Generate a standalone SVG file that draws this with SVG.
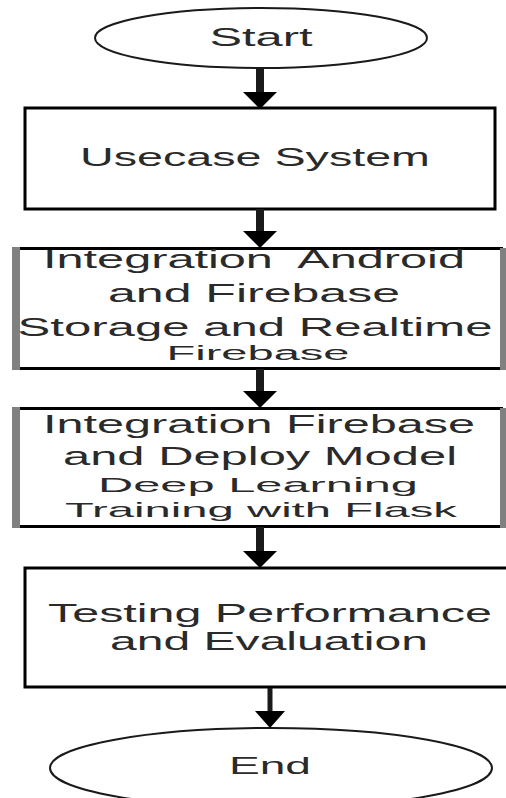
<svg xmlns="http://www.w3.org/2000/svg" width="506" height="798" viewBox="0 0 506 798">
<style>
.t{font-family:"Liberation Sans",Arial,sans-serif;fill:#2a2a2a;text-anchor:middle;white-space:pre}
.box{fill:#fff;stroke:#000;stroke-width:3}
.ell{fill:#fff;stroke:#1a1a1a;stroke-width:2}
.hl{stroke:#000;stroke-width:3}
.gb{fill:#808080}
.shaft{stroke:#1a1a1a;stroke-width:8}
.head{fill:#000}
</style>
<rect width="506" height="798" fill="#fff"/>
<g id="start">
<ellipse class="ell" cx="261" cy="38" rx="166" ry="30"/>
<text class="t" x="261" y="46" font-size="26" textLength="103" lengthAdjust="spacingAndGlyphs">Start</text>
</g>
<g id="usecase">
<rect class="box" x="25" y="108" width="470" height="101"/>
<text class="t" x="255" y="166" font-size="26" textLength="350" lengthAdjust="spacingAndGlyphs">Usecase System</text>
</g>
<g id="integration-android">
<rect x="12" y="248" width="494" height="121" fill="#fff"/>
<line class="hl" x1="14" y1="248.5" x2="503" y2="248.5"/>
<line class="hl" x1="14" y1="368.5" x2="503" y2="368.5"/>
<rect class="gb" x="12" y="247" width="8" height="123"/>
<rect class="gb" x="500" y="248" width="6" height="122"/>
<text class="t" x="254" y="268" font-size="25" textLength="422" lengthAdjust="spacingAndGlyphs" xml:space="preserve">Integration  Android</text>
<text class="t" x="254" y="302" font-size="25" textLength="292" lengthAdjust="spacingAndGlyphs">and Firebase</text>
<text class="t" x="255" y="336" font-size="25" textLength="475" lengthAdjust="spacingAndGlyphs">Storage and Realtime</text>
<text class="t" x="258" y="360" font-size="20" textLength="183" lengthAdjust="spacingAndGlyphs">Firebase</text>
</g>
<g id="integration-firebase">
<rect x="12" y="408" width="494" height="120" fill="#fff"/>
<line class="hl" x1="14" y1="408.5" x2="503" y2="408.5"/>
<line class="hl" x1="14" y1="526.5" x2="503" y2="526.5"/>
<rect class="gb" x="12" y="407" width="8" height="121"/>
<rect class="gb" x="500" y="408" width="6" height="120"/>
<text class="t" x="259" y="433" font-size="26" textLength="432" lengthAdjust="spacingAndGlyphs">Integration Firebase</text>
<text class="t" x="260" y="465" font-size="26" textLength="394" lengthAdjust="spacingAndGlyphs">and Deploy Model</text>
<text class="t" x="258" y="492" font-size="21" textLength="320" lengthAdjust="spacingAndGlyphs">Deep Learning</text>
<text class="t" x="261" y="517" font-size="21" textLength="392" lengthAdjust="spacingAndGlyphs">Training with Flask</text>
</g>
<g id="testing">
<rect class="box" x="25" y="568" width="490" height="119"/>
<text class="t" x="270" y="622" font-size="26" textLength="444" lengthAdjust="spacingAndGlyphs">Testing Performance</text>
<text class="t" x="269" y="650" font-size="26" textLength="318" lengthAdjust="spacingAndGlyphs">and Evaluation</text>
</g>
<g id="end">
<ellipse class="ell" cx="271" cy="768" rx="221" ry="40"/>
<text class="t" x="270" y="774" font-size="24" textLength="82" lengthAdjust="spacingAndGlyphs">End</text>
</g>
<g id="connectors">
<line class="shaft" x1="260" y1="68" x2="260" y2="96"/>
<polygon class="head" points="243,92 277,92 260,109"/>
<line class="shaft" x1="260" y1="209" x2="260" y2="235"/>
<polygon class="head" points="243,231 277,231 260,248"/>
<line class="shaft" x1="260" y1="369" x2="260" y2="395"/>
<polygon class="head" points="243,391 277,391 260,408"/>
<line class="shaft" x1="260" y1="527" x2="260" y2="555"/>
<polygon class="head" points="243,551 277,551 260,568"/>
<line class="shaft" x1="270" y1="688" x2="270" y2="715" style="stroke-width:5"/>
<polygon class="head" points="255,711 285,711 270,728"/>
</g>
</svg>
